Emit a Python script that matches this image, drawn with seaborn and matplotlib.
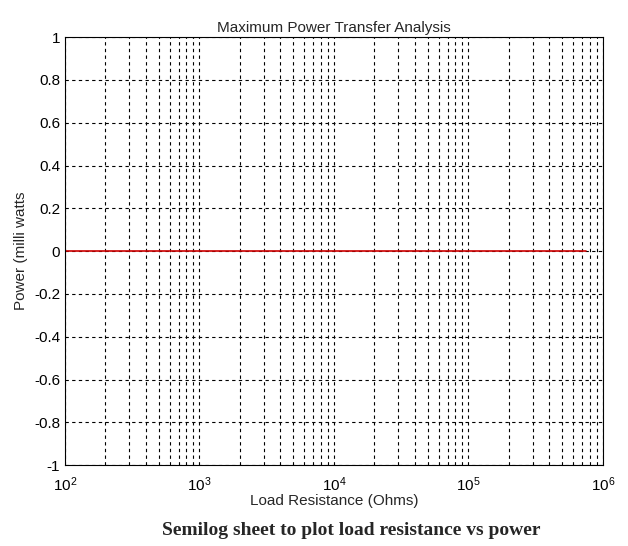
import numpy as np
import pandas as pd
import matplotlib
matplotlib.use("Agg")
import matplotlib.pyplot as plt
import seaborn as sns
from matplotlib.ticker import LogLocator, NullFormatter

resistance = [100, 1000, 10000, 100000, 750000]
power = [0, 0, 0, 0, 0]
yticks = [-1, -0.8, -0.6, -0.4, -0.2, 0, 0.2, 0.4, 0.6, 0.8, 1]

sns.set_style("white")
plt.rcParams['font.family'] = ['Liberation Sans', 'DejaVu Sans']

fig = plt.figure(figsize=(6.28, 5.46), dpi=100)
ax = fig.add_axes([0.1035, 0.148, 0.8565, 0.784])
df = pd.DataFrame({"R": resistance, "P": power})
sns.lineplot(data=df, x="R", y="P", ax=ax, color="#cc0000", linewidth=1.2)
ax.set_xscale("log")
ax.set_xlim(100, 1e6)
ax.set_ylim(-1, 1)
ax.set_yticks(yticks)
ax.set_yticklabels([("%g" % v) for v in yticks])
ax.xaxis.set_minor_locator(LogLocator(base=10, subs=np.arange(2, 10)))
ax.xaxis.set_minor_formatter(NullFormatter())
ax.grid(True, which="both", axis="x", color="black", linestyle=(0, (3, 3)), linewidth=0.8)
ax.grid(True, which="major", axis="y", color="black", linestyle=(0, (3, 3)), linewidth=0.8)
for s in ax.spines.values():
    s.set_color("black"); s.set_linewidth(0.8)
ax.tick_params(axis="both", which="both", direction="in", labelsize=11, colors="black")
ax.tick_params(which="major", length=5)
ax.tick_params(which="minor", length=3)
ax.tick_params(axis="x", which="major", pad=7)
ax.set_title("Maximum Power Transfer Analysis", fontsize=11, pad=4)
ax.set_xlabel("Load Resistance (Ohms)", fontsize=11, labelpad=0)
ax.set_ylabel("Power (milli watts", fontsize=11, labelpad=4)
fig.text(0.56, 0.02, "Semilog sheet to plot load resistance vs power",
         ha="center", fontsize=14, fontweight="bold", family="Liberation Serif")
fig.savefig("out.png", dpi=100)
